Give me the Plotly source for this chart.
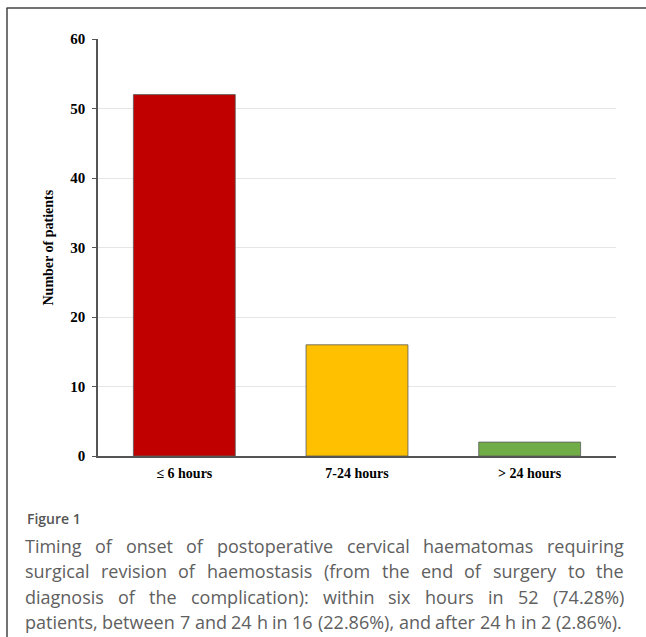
import plotly.graph_objects as go

# ---------------- data ----------------
categories = ["≤ 6 hours", "7-24 hours", "> 24 hours"]
patients = [52, 16, 2]
bar_colors = ["#C00000", "#FFC000", "#70AD47"]
y_ticks = [0, 10, 20, 30, 40, 50, 60]
y_title = "Number of patients"
fig_label = "Figure 1"
caption_lines = [
    "Timing of onset of postoperative cervical haematomas requiring",
    "surgical revision of haemostasis (from the end of surgery to the",
    "diagnosis of the complication): within six hours in 52 (74.28%)",
    "patients, between 7 and 24 h in 16 (22.86%), and after 24 h in 2 (2.86%).",
]

# ---------------- layout geometry (pixels) ----------------
W, H = 646, 637
L, R, T, B = 98, 30, 39, 181
PW, PH = W - L - R, H - T - B


def px(x):
    return (x - L) / PW


def py(y):
    return 1 - (y - T) / PH


fig = go.Figure()
fig.add_trace(go.Bar(
    x=categories,
    y=patients,
    width=0.59,
    marker=dict(color=bar_colors, line=dict(color="#5a5a5a", width=0.8)),
    hoverinfo="x+y",
))

serif = "Liberation Serif, Times New Roman, serif"
fig.update_layout(
    width=W, height=H,
    margin=dict(l=L, r=R, t=T, b=B),
    plot_bgcolor="white", paper_bgcolor="white",
    showlegend=False,
    font=dict(family=serif, color="#000"),
)
fig.update_xaxes(
    range=[-0.5, 2.5],
    showline=True, linecolor="#555", linewidth=1.5,
    ticks="", showgrid=False,
    tickfont=dict(family=serif, size=14, weight="bold", color="#000"),
    ticklabelstandoff=3,
)
fig.update_yaxes(
    range=[0, 60], tickvals=y_ticks,
    showline=True, linecolor="#555", linewidth=1.5,
    ticks="outside", ticklen=4, tickcolor="#555", tickwidth=1,
    showgrid=True, gridcolor="#e6e6e6", gridwidth=1,
    zeroline=False,
    tickfont=dict(family=serif, size=15, weight="bold", color="#000"),
    ticklabelstandoff=4,
)

annotations = []
# y-axis title
annotations.append(dict(
    text=y_title, textangle=-90, xref="paper", yref="paper",
    x=px(48), y=py((T + T + PH) / 2), xanchor="center", yanchor="middle",
    showarrow=False, font=dict(family=serif, size=14, weight="bold", color="#000"),
))

# caption
sans = "Open Sans, sans-serif"
cap_color = "#606060"
annotations.append(dict(
    text=fig_label, xref="paper", yref="paper", x=px(25), y=py(518),
    xanchor="left", yanchor="middle", showarrow=False,
    font=dict(family=sans, size=14, weight=600, color="#555555"),
))

# approximate Open Sans advance widths (em) for justified layout
cw = {
    ' ': .26, 'a': .556, 'b': .613, 'c': .476, 'd': .613, 'e': .561, 'f': .339,
    'g': .548, 'h': .614, 'i': .253, 'j': .253, 'k': .525, 'l': .253, 'm': .930,
    'n': .614, 'o': .604, 'p': .613, 'q': .613, 'r': .408, 's': .477, 't': .353,
    'u': .614, 'v': .501, 'w': .778, 'x': .524, 'y': .502, 'z': .477,
    '.': .266, ',': .248, '(': .295, ')': .295, '%': .828, ':': .266, 'T': .561,
}
FS = 18


def wwidth(w):
    return sum(cw.get(c, .572) for c in w) * FS


x0, x1 = 25, 624
line_y = [546, 571.3, 596.6, 622]
for i, line in enumerate(caption_lines):
    words = line.split(" ")
    widths = [wwidth(w) for w in words]
    gap = (x1 - x0 - sum(widths)) / (len(words) - 1)
    if i == len(caption_lines) - 1:
        gap = min(gap, cw[' '] * FS)
    xpos = x0
    for w, wd in zip(words, widths):
        annotations.append(dict(
            text=w, xref="paper", yref="paper", x=px(xpos + wd / 2), y=py(line_y[i]),
            xanchor="center", yanchor="middle", showarrow=False,
            font=dict(family=sans, size=FS, weight=400, color=cap_color),
        ))
        xpos += wd + gap

fig.update_layout(annotations=annotations)

# frame (top and left border lines)
fig.add_shape(type="line", xref="paper", yref="paper",
              x0=px(6.5), x1=px(W + 5), y0=py(8), y1=py(8),
              line=dict(color="#444", width=1.5))
fig.add_shape(type="line", xref="paper", yref="paper",
              x0=px(7), x1=px(7), y0=py(8), y1=py(H + 5),
              line=dict(color="#444", width=1.5))

fig.write_html(
    "out.html",
    config={"displayModeBar": False},
    post_script="document.body.style.margin='0px';document.body.style.overflow='hidden';",
)
